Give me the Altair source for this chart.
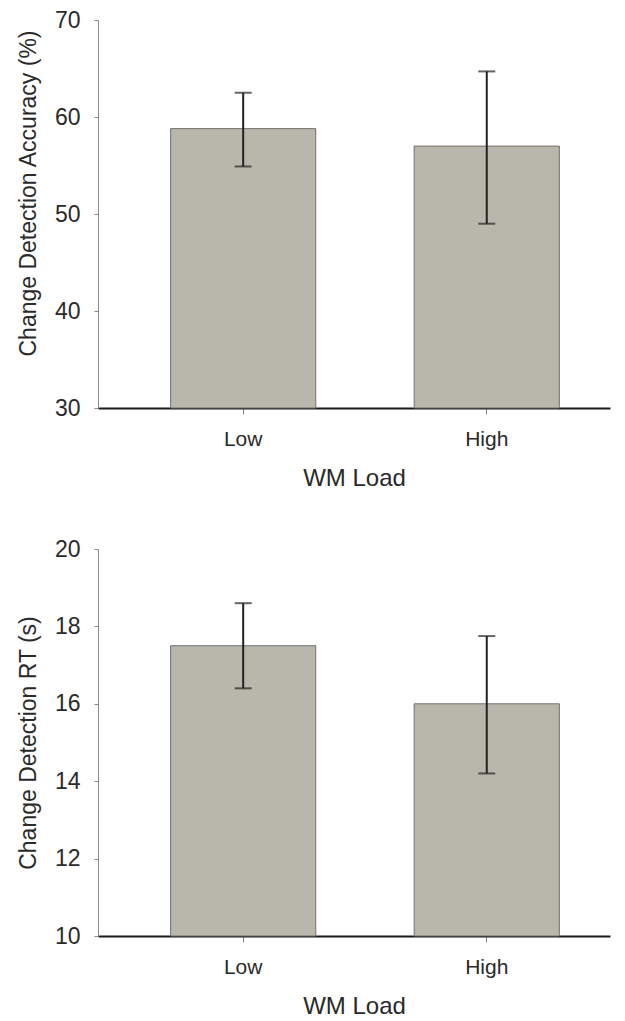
import altair as alt
import pandas as pd

categories = ["Low", "High"]
acc_mean = [58.8, 57.0]
acc_lo = [54.9, 49.0]
acc_hi = [62.5, 64.7]
rt_mean = [17.5, 16.0]
rt_lo = [16.4, 14.2]
rt_hi = [18.6, 17.75]

FONT = "Liberation Sans"
BAR_FILL = "#b9b7ab"
BAR_STROKE = "#6f6f6f"
ERR = "#222222"
TXT = "#2a2a2a"

xscale = alt.Scale(domain=categories, paddingInner=0.404, paddingOuter=0.253, align=0.589)


def panel(mean, lo, hi, ymin, ymax, step, ytitle, title_y, h):
    df = pd.DataFrame({"load": categories, "mean": mean, "lo": lo, "hi": hi})
    x = alt.X(
        "load:N",
        scale=xscale,
        sort=categories,
        axis=alt.Axis(
            title="WM Load",
            labelAngle=0,
            labelFontSize=21,
            labelColor=TXT,
            labelFont=FONT,
            labelPadding=14,
            tickSize=6,
            tickColor="#888888",
            domainColor="#1a1a1a",
            domainWidth=2,
            titleFont=FONT,
            titleFontSize=24,
            titleFontWeight="normal",
            titleColor=TXT,
            titleBaseline="alphabetic",
            titleY=77,
        ),
    )
    yaxis = alt.Axis(
        title=ytitle,
        values=list(range(ymin, ymax + 1, step)),
        labelFontSize=23,
        labelColor=TXT,
        labelFont=FONT,
        labelPadding=14,
        tickSize=4,
        tickColor="#888888",
        domainColor="#888888",
        grid=False,
        titleFont=FONT,
        titleFontSize=23,
        titleFontWeight="normal",
        titleColor=TXT,
        titleX=-70,
        titleY=title_y,
        titleBaseline="middle",
        titleAlign="center",
    )
    yscale = alt.Scale(domain=[ymin, ymax], nice=False, zero=False)
    base = alt.Chart(df)
    bars = base.mark_bar(fill=BAR_FILL, stroke=BAR_STROKE, strokeWidth=1).encode(
        x=x, y=alt.Y("mean:Q", scale=yscale, axis=yaxis), y2=alt.datum(ymin)
    )
    rule = base.mark_rule(color=ERR, strokeWidth=2).encode(
        x=alt.X("load:N", scale=xscale, sort=categories),
        y=alt.Y("lo:Q", scale=yscale),
        y2="hi:Q",
    )
    cap_lo = base.mark_tick(color=ERR, thickness=2, size=17, orient="horizontal").encode(
        x=alt.X("load:N", scale=xscale, sort=categories), y=alt.Y("lo:Q", scale=yscale)
    )
    cap_hi = base.mark_tick(color=ERR, thickness=2, size=17, orient="horizontal").encode(
        x=alt.X("load:N", scale=xscale, sort=categories), y=alt.Y("hi:Q", scale=yscale)
    )
    return alt.layer(bars, rule, cap_lo, cap_hi).properties(width=512, height=h)


top = panel(acc_mean, acc_lo, acc_hi, 30, 70, 10, "Change Detection Accuracy (%)", 173, 388)
bottom = panel(rt_mean, rt_lo, rt_hi, 10, 20, 2, "Change Detection RT (s)", 193.5, 387)

chart = (
    alt.vconcat(top, bottom, spacing=48)
    .properties(padding={"left": 8, "top": 1, "right": 2, "bottom": 0}, background="white")
    .configure_view(strokeWidth=0, stroke="transparent")
)

chart.save("out.html", embed_options={"renderer": "svg", "actions": False})
